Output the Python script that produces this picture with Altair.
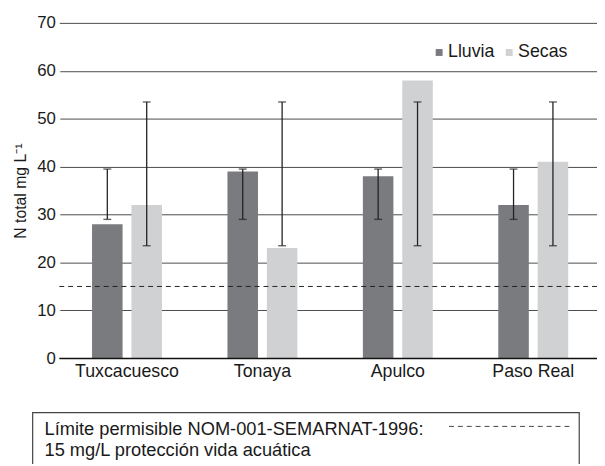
import altair as alt
import pandas as pd

sites = ["Tuxcacuesco", "Tonaya", "Apulco", "Paso Real"]
seasons = ["Lluvia", "Secas"]
lluvia = [28, 39, 38, 32]
secas = [32, 23, 58, 41]
lluvia_lo = [29, 29, 29, 29]
lluvia_hi = [39.5, 39.5, 39.5, 39.5]
secas_lo = [23.5, 23.5, 23.5, 23.5]
secas_hi = [53.5, 53.5, 53.5, 53.5]
limit_value = 15
note_line1 = "Límite permisible NOM-001-SEMARNAT-1996:"
note_line2 = "15 mg/L protección vida acuática"
y_title = "N total mg L\u207b\u00b9"

rows = []
for i, s in enumerate(sites):
    rows.append({"site": s, "season": "Lluvia", "value": lluvia[i], "lo": lluvia_lo[i], "hi": lluvia_hi[i]})
    rows.append({"site": s, "season": "Secas", "value": secas[i], "lo": secas_lo[i], "hi": secas_hi[i]})
df = pd.DataFrame(rows)

FONT = "Liberation Sans"
W, H = 545, 340
TXT = "#1a1a1a"

x = alt.X("site:N", sort=sites, title=None,
          scale=alt.Scale(paddingInner=0, paddingOuter=0, range=[0, 549]),
          axis=alt.Axis(labelFontSize=18, labelColor=TXT, labelAngle=0,
                        ticks=False, domain=False, domainOpacity=0, grid=False,
                        labelPadding=4, labelFont=FONT))
xo = alt.XOffset("season:N", sort=seasons,
                 scale=alt.Scale(paddingInner=0.225, paddingOuter=0.831))
yscale = alt.Scale(domain=[0, 70], nice=False)
yaxis = alt.Axis(values=[0, 10, 20, 30, 40, 50, 60, 70], grid=True,
                 gridColor="#4a4a4a", gridWidth=1, domain=False, domainOpacity=0,
                 ticks=False, labelFontSize=17, labelColor=TXT,
                 labelPadding=4, labelFont=FONT,
                 titleFontSize=16, titleFontWeight="normal",
                 titleColor=TXT, titleFont=FONT, titlePadding=8)

bars = alt.Chart(df).mark_bar().encode(
    x=x, xOffset=xo,
    y=alt.Y("value:Q", scale=yscale, title=y_title, axis=yaxis),
    color=alt.Color("season:N", sort=seasons,
                    scale=alt.Scale(domain=seasons, range=["#7a7b7e", "#d0d1d3"]),
                    legend=alt.Legend(title=None, orient="none", legendX=376,
                                      legendY=21, direction="horizontal",
                                      symbolType="square", symbolSize=49,
                                      symbolStrokeWidth=0, labelFontSize=18,
                                      labelColor=TXT, labelFont=FONT,
                                      labelOffset=0, columnPadding=5)),
)

# white cover over the left edge of the plot area (no frame in the reference)
cover = alt.Chart(pd.DataFrame({"a": [0]})).mark_rule(color="white", strokeWidth=2).encode(
    x=alt.value(0), y=alt.value(1), y2=alt.value(H - 1),
)

err = alt.Chart(df).mark_rule(color="#222", strokeWidth=1.3).encode(
    x=x, xOffset=xo,
    y=alt.Y("lo:Q", scale=yscale, title=y_title, axis=yaxis), y2="hi:Q",
)
cap_hi = alt.Chart(df).mark_tick(color="#222", thickness=1.4, size=8, orient="horizontal").encode(
    x=x, xOffset=xo, y=alt.Y("hi:Q", scale=yscale, title=y_title, axis=yaxis),
)
cap_lo = alt.Chart(df).mark_tick(color="#222", thickness=1.4, size=8, orient="horizontal").encode(
    x=x, xOffset=xo, y=alt.Y("lo:Q", scale=yscale, title=y_title, axis=yaxis),
)

limit = alt.Chart(pd.DataFrame({"v": [limit_value]})).mark_rule(
    color="#222", strokeWidth=1, strokeDash=[5, 4]).encode(
    y=alt.Y("v:Q", scale=yscale, title=y_title, axis=yaxis),
    x=alt.value(0), x2=alt.value(W),
)
baseline = alt.Chart(pd.DataFrame({"v": [0]})).mark_rule(
    color="#111", strokeWidth=1.2).encode(
    y=alt.Y("v:Q", scale=yscale, title=y_title, axis=yaxis),
    x=alt.value(0), x2=alt.value(W),
)

note_df = pd.DataFrame({"a": [0]})
box = alt.Chart(note_df).mark_rect(fill="white", stroke="#444", strokeWidth=1.2).encode(
    x=alt.value(-27), x2=alt.value(527), y=alt.value(395), y2=alt.value(470),
)
t1 = alt.Chart(note_df).mark_text(align="left", baseline="middle", fontSize=18.5,
                                 font=FONT, color=TXT).encode(
    x=alt.value(-15), y=alt.value(412), text=alt.value(note_line1),
)
t2 = alt.Chart(note_df).mark_text(align="left", baseline="middle", fontSize=18.5,
                                 font=FONT, color=TXT).encode(
    x=alt.value(-15), y=alt.value(433), text=alt.value(note_line2),
)
sample = alt.Chart(note_df).mark_rule(color="#444", strokeWidth=1, strokeDash=[5, 4]).encode(
    x=alt.value(395), x2=alt.value(518), y=alt.value(409),
)

chart = alt.layer(bars, cover, err, cap_hi, cap_lo, limit, baseline, box, t1, t2, sample).properties(
    width=W, height=H,
    autosize=alt.AutoSizeParams(type="none"),
    padding={"left": 52, "top": 12, "right": 0, "bottom": 104},
).configure(font=FONT).configure_view(
    strokeWidth=0, stroke="transparent"
).configure_axis(domain=False, domainOpacity=0, ticks=False).configure_axisX(grid=False)

chart.save("out.html", embed_options={"renderer": "svg", "actions": False})
